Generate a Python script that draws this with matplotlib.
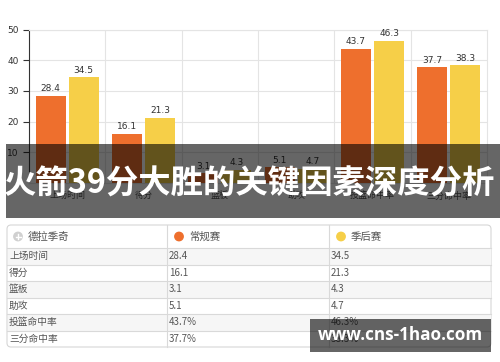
import numpy as np
import matplotlib.pyplot as plt
from matplotlib.patches import Rectangle, FancyBboxPatch, Circle

plt.rcParams['font.family'] = ['Noto Sans CJK SC', 'DejaVu Sans']

# data
categories = ["上场时间", "得分", "篮板", "助攻", "投篮命中率", "三分命中率"]
regular = [28.4, 16.1, 3.1, 5.1, 43.7, 37.7]
playoff = [34.5, 21.3, 4.3, 4.7, 46.3, 38.3]
regular_txt = ["28.4", "16.1", "3.1", "5.1", "43.7%", "37.7%"]
playoff_txt = ["34.5", "21.3", "4.3", "4.7", "46.3%", "38.3%"]
player = "德拉季奇"
series_names = ["常规赛", "季后赛"]
title = "火箭39分大胜的关键因素深度分析"
watermark = "www.cns-1hao.com"

c_reg = '#ee6f2d'
c_po = '#f6cf48'

fig = plt.figure(figsize=(5, 3.62), dpi=100)
ax = fig.add_axes([0.058, 0.4945, 0.916, 0.424])

x = np.arange(len(categories))
w = 0.395
off = 0.217
ax.bar(x - off, regular, w, color=c_reg, zorder=3)
ax.bar(x + off, playoff, w, color=c_po, zorder=3)
for i in range(len(categories)):
    ax.text(x[i] - off, regular[i] + 0.8, f"{regular[i]}", ha='center', va='bottom',
            fontsize=6.5, color='#333333', family='DejaVu Sans')
    ax.text(x[i] + off, playoff[i] + 0.8, f"{playoff[i]}", ha='center', va='bottom',
            fontsize=6.5, color='#333333', family='DejaVu Sans')

ax.set_xlim(-0.5, len(categories) - 0.5)
ax.set_ylim(0, 50)
ax.set_yticks([10, 20, 30, 40, 50])
ax.set_xticks(x)
ax.set_xticklabels(categories, fontsize=6.5, color='#555555')
ax.set_xticks(np.arange(0.5, len(categories) - 0.5, 1), minor=True)
ax.tick_params(axis='x', which='both', length=0, pad=6)
ax.tick_params(axis='y', length=4, color='#333333', labelsize=6.5, labelcolor='#333333')
for lab in ax.get_yticklabels():
    lab.set_family('DejaVu Sans')
ax.grid(axis='y', color='#e4e4e4', lw=0.8, zorder=0)
ax.grid(axis='x', which='minor', color='#e4e4e4', lw=0.8, zorder=0)
for s in ['top', 'right', 'bottom']:
    ax.spines[s].set_color('#e4e4e4')
ax.spines['left'].set_color('#333333')

# overlay in pixel coordinates
ov = fig.add_axes([0, 0, 1, 1], zorder=5)
ov.set_xlim(0, 500)
ov.set_ylim(362, 0)
ov.axis('off')
ov.patch.set_alpha(0)

# banner
ov.add_patch(Rectangle((6, 144), 494, 74, color='black', alpha=0.6, lw=0))
ov.text(250, 184, title, ha='center', va='center', fontsize=23.3,
        fontweight='bold', color='white')

# table
left, right = 7, 491
cols = [7, 167, 329, 491]
top, head_h, row_h = 225, 23, 16.5
bottom = top + head_h + row_h * len(categories)
ov.add_patch(FancyBboxPatch((left, top), right - left, bottom - top,
                            boxstyle='round,pad=0,rounding_size=4',
                            fc='white', ec='#d6d6d6', lw=0.8, zorder=1))
for r in range(len(categories)):
    y0 = top + head_h + r * row_h
    if r % 2 == 0:
        ov.add_patch(Rectangle((left + 0.5, y0), right - left - 1, row_h,
                               fc='#f6f6f6', lw=0, zorder=1.5))
    ov.plot([left, right], [y0, y0], color='#d9d9d9', lw=0.8, zorder=2)
for cx in cols[1:-1]:
    ov.plot([cx, cx], [top, bottom], color='#d9d9d9', lw=0.8, zorder=2)

hy = top + head_h / 2
ov.add_patch(Circle((18, hy), 4.2, color='#d0d0d0', zorder=3))
ov.plot([15.5, 20.5], [hy, hy], color='white', lw=1, zorder=4)
ov.plot([18, 18], [hy - 2.5, hy + 2.5], color='white', lw=1, zorder=4)
ov.text(28, hy, player, ha='left', va='center', fontsize=7.5, color='#555555', zorder=4)
ov.add_patch(Circle((179, hy), 4.2, color=c_reg, zorder=3))
ov.text(189, hy, series_names[0], ha='left', va='center', fontsize=7.5, color='#555555', zorder=4)
ov.add_patch(Circle((341, hy), 4.2, color=c_po, zorder=3))
ov.text(351, hy, series_names[1], ha='left', va='center', fontsize=7.5, color='#555555', zorder=4)

for r in range(len(categories)):
    yc = top + head_h + r * row_h + row_h / 2
    ov.text(9, yc, categories[r], ha='left', va='center', fontsize=7, color='#555555', zorder=4)
    ov.text(169, yc, regular_txt[r], ha='left', va='center', fontsize=7, color='#555555', zorder=4)
    ov.text(331, yc, playoff_txt[r], ha='left', va='center', fontsize=7, color='#555555', zorder=4)

# watermark
ov.add_patch(Rectangle((310, 319), 181, 33, color='black', alpha=0.6, lw=0, zorder=6))
ov.text(400, 335.5, watermark, ha='center', va='center', fontsize=12.3,
        fontweight='bold', color='white', family='Open Sans', zorder=7)

fig.savefig('out.png', dpi=100)
